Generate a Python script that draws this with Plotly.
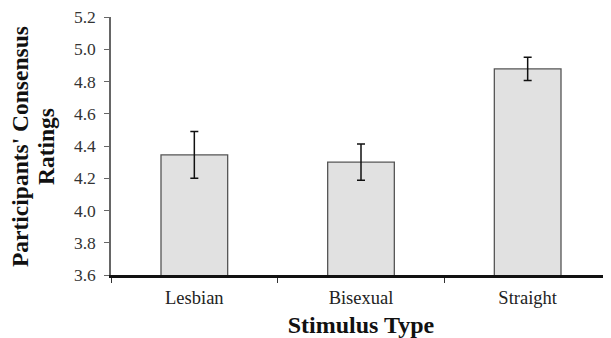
import plotly.graph_objects as go

categories = ["Lesbian", "Bisexual", "Straight"]
means = [4.345, 4.30, 4.878]
errors = [0.145, 0.112, 0.072]
y_ticks = [3.6, 3.8, 4.0, 4.2, 4.4, 4.6, 4.8, 5.0, 5.2]
y_title_lines = ["Participants' Consensus", "Ratings"]

fig = go.Figure()
fig.add_trace(go.Bar(
    x=categories, y=means,
    width=0.4,
    marker=dict(color="#e1e1e1", line=dict(color="#555555", width=1.3)),
    error_y=dict(type="data", array=errors, visible=True, color="#111111", thickness=1.5, width=4),
))

font = "Liberation Serif, Times New Roman, serif"
# page body has an 8px default margin, so the figure is 8px smaller and offset
fig.update_layout(
    width=603, height=330,
    margin=dict(l=103, r=0, t=9, b=63),
    plot_bgcolor="white", paper_bgcolor="white",
    showlegend=False,
    font=dict(family=font, color="#222222"),
    xaxis=dict(
        automargin=False,
        showline=True, linecolor="#111111", linewidth=2.5,
        ticks="outside", tickson="boundaries", ticklen=5, tickcolor="#333333",
        ticklabelstandoff=4,
        tickfont=dict(size=18.5, color="#222222"),
        title=dict(text="<b>Stimulus Type</b>", font=dict(size=24, color="#111111"), standoff=10),
        showgrid=False, zeroline=False,
    ),
    yaxis=dict(
        automargin=False,
        range=[3.6, 5.2], tickvals=y_ticks, tickformat=".1f",
        showline=True, linecolor="#666666", linewidth=1.5,
        ticks="outside", ticklen=5, tickcolor="#666666", ticklabelstandoff=5,
        ticklabeloverflow="allow",
        tickfont=dict(size=17.5, color="#333333"),
        showgrid=False, zeroline=False,
    ),
)

for txt, xp in zip(y_title_lines, [-0.182, -0.13]):
    fig.add_annotation(
        text=f"<b>{txt}</b>", xref="paper", yref="paper", x=xp, y=0.496,
        xanchor="center", yanchor="middle", textangle=-90, showarrow=False,
        font=dict(size=23.5, color="#111111", family=font),
    )

fig.write_html("out.html")
